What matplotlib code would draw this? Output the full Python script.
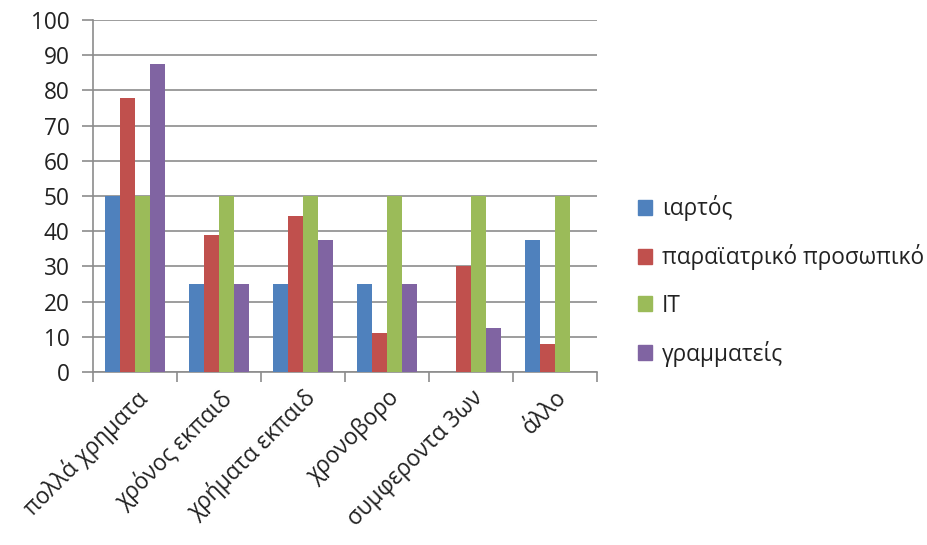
import numpy as np
import matplotlib.pyplot as plt
from matplotlib.patches import Patch

plt.rcParams['font.family'] = ['Open Sans', 'DejaVu Sans']

categories = ['πολλά χρηματα', 'χρόνος εκπαιδ', 'χρήματα εκπαιδ',
              'χρονοβορο', 'συμφεροντα 3ων', 'άλλο']
series = ['ιαρτός', 'παραϊατρικό προσωπικό', 'IT', 'γραμματείς']
iartos = [50, 25, 25, 25, 0, 37.5]
paraiatriko = [77.8, 38.9, 44.4, 11.1, 30, 8]
it = [50, 50, 50, 50, 50, 50]
grammateis = [87.5, 25, 37.5, 25, 12.5, 0]

colors = ['#4F81BD', '#C0504D', '#9BBB59', '#8064A2']
values = [iartos, paraiatriko, it, grammateis]

fs = 16.3
fig = plt.figure(figsize=(9.28, 5.45), dpi=100)
ax = fig.add_axes([93 / 928, 1 - 372 / 545, 504 / 928, 352 / 545])

x = np.arange(len(categories))
w = 0.18
for i, (vals, c) in enumerate(zip(values, colors)):
    ax.bar(x + (i - 1.5) * w, vals, width=w, color=c, zorder=3)

ax.set_xlim(-0.5, len(categories) - 0.5)
ax.set_ylim(0, 100)
ax.set_yticks(range(0, 101, 10))
ax.grid(axis='y', color='#8c8c8c', linewidth=1.2, zorder=0)

for s in ['top', 'right']:
    ax.spines[s].set_visible(False)
for s in ['left', 'bottom']:
    ax.spines[s].set_color('#8c8c8c')
    ax.spines[s].set_linewidth(1.2)

# boundaries get the tick marks, centres get the labels
ax.set_xticks(np.arange(len(categories) + 1) - 0.5)
ax.set_xticklabels([])
ax.tick_params(axis='x', length=7, color='#8c8c8c', width=1.2)
ax.tick_params(axis='y', length=8, color='#8c8c8c', width=1.2,
               labelsize=fs, labelcolor='#222222', pad=9)
ax.set_xticks(x, minor=True)
ax.set_xticklabels(categories, minor=True, rotation=45, ha='right',
                   rotation_mode='anchor', fontsize=fs, color='#222222')
ax.tick_params(axis='x', which='minor', length=0, pad=10)

handles = [Patch(color=c, label=s) for c, s in zip(colors, series)]
fig.legend(handles=handles, loc='center left', bbox_to_anchor=(618 / 928, 1 - 281 / 545),
           frameon=False, fontsize=fs, handlelength=0.6, handleheight=0.6,
           labelspacing=1.02, handletextpad=0.45, labelcolor='#222222')

fig.savefig('out.png', dpi=100)
